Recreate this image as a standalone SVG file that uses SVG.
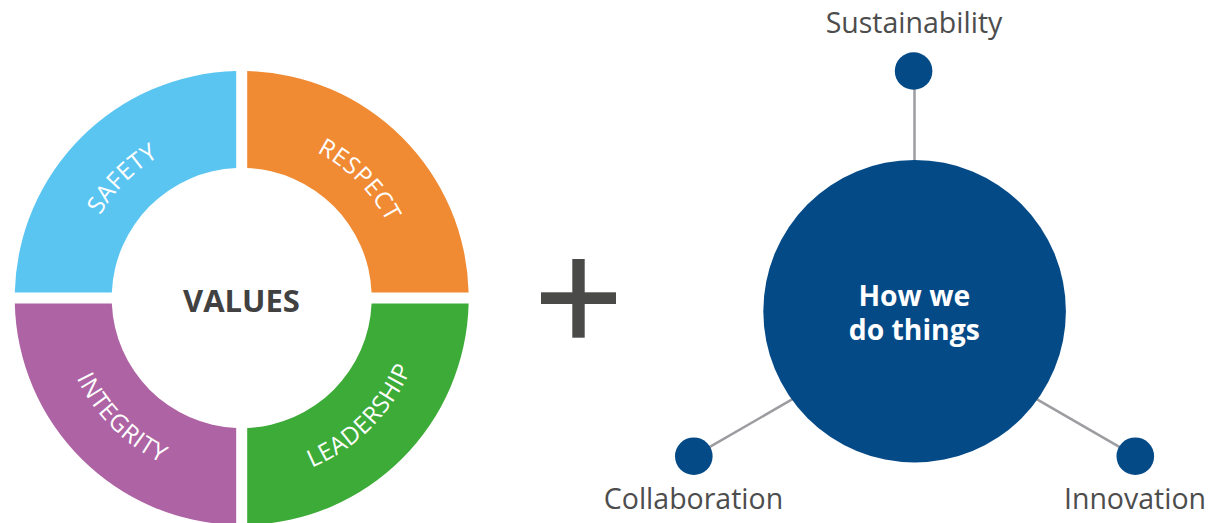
<svg xmlns="http://www.w3.org/2000/svg" width="1225" height="523" viewBox="0 0 1225 523">
<style>
.seg-label{font-family:"Open Sans","Liberation Sans",sans-serif;font-size:24px;fill:#ffffff;letter-spacing:0.6px}
.center-label{font-family:"Open Sans","Liberation Sans",sans-serif;font-size:31px;font-weight:700;fill:#414141}
.hub-label{font-family:"Open Sans","Liberation Sans",sans-serif;font-size:28.3px;font-weight:700;fill:#ffffff}
.leaf-label{font-family:"Open Sans","Liberation Sans",sans-serif;font-size:28.5px;fill:#4d4d4d}
.dot{fill:#044a87}
.conn{stroke:#9d9da1;stroke-width:2.5;fill:none}
</style>
<defs>
<path id="arcSafety" d="M77.7,298 A164,164 0 0 1 241.7,134"/>
<path id="arcRespect" d="M241.7,134 A164,164 0 0 1 405.7,298"/>
<path id="arcIntegrity" d="M58.2,298 A183.5,183.5 0 0 0 241.7,481.5"/>
<path id="arcLeadership" d="M241.7,481.5 A183.5,183.5 0 0 0 425.2,298"/>
</defs>
<rect width="1225" height="523" fill="#ffffff"/>

<g id="values-wheel">
<g id="safety">
<path d="M236.2,71.07 A227,227 0 0 0 14.77,292.5 L111.82,292.5 A130,130 0 0 1 236.2,168.12 Z" fill="#5bc5f2"/>
<text class="seg-label"><textPath href="#arcSafety" startOffset="50%" text-anchor="middle">SAFETY</textPath></text>
</g>
<g id="respect">
<path d="M247.2,71.07 A227,227 0 0 1 468.63,292.5 L371.58,292.5 A130,130 0 0 0 247.2,168.12 Z" fill="#f08a33"/>
<text class="seg-label"><textPath href="#arcRespect" startOffset="50%" text-anchor="middle">RESPECT</textPath></text>
</g>
<g id="leadership">
<path d="M468.63,303.5 A227,227 0 0 1 247.2,524.93 L247.2,427.88 A130,130 0 0 0 371.58,303.5 Z" fill="#3dab37"/>
<text class="seg-label"><textPath href="#arcLeadership" startOffset="50%" text-anchor="middle">LEADERSHIP</textPath></text>
</g>
<g id="integrity">
<path d="M14.77,303.5 A227,227 0 0 0 236.2,524.93 L236.2,427.88 A130,130 0 0 1 111.82,303.5 Z" fill="#ae63a4"/>
<text class="seg-label"><textPath href="#arcIntegrity" startOffset="50%" text-anchor="middle">INTEGRITY</textPath></text>
</g>
<g id="values">
<text class="center-label" x="241.5" y="311.5" text-anchor="middle">VALUES</text>
</g>
</g>

<g id="plus">
<rect x="572.3" y="259" width="12.4" height="78.7" fill="#4a4a48"/>
<rect x="541" y="292.3" width="75" height="11.7" fill="#4a4a48"/>
</g>

<g id="connectors">
<line class="conn" x1="914.5" y1="71" x2="914.5" y2="328.5"/>
<line class="conn" x1="693.8" y1="456.2" x2="914.5" y2="328.5"/>
<line class="conn" x1="1135.3" y1="456.2" x2="914.5" y2="328.5"/>
</g>

<g id="how-we-do-things">
<circle cx="914.6" cy="311.2" r="151.3" fill="#044a87"/>
<text class="hub-label" text-anchor="middle"><tspan x="914.3" y="305.7">How we</tspan><tspan x="914.3" y="340">do things</tspan></text>
</g>

<g id="sustainability">
<circle class="dot" cx="913.6" cy="71" r="18.8"/>
<text class="leaf-label" x="914" y="33.3" text-anchor="middle">Sustainability</text>
</g>

<g id="collaboration">
<circle class="dot" cx="693.8" cy="456.2" r="18.8"/>
<text class="leaf-label" x="693.5" y="509.3" text-anchor="middle">Collaboration</text>
</g>

<g id="innovation">
<circle class="dot" cx="1135.3" cy="456.2" r="18.8"/>
<text class="leaf-label" x="1135" y="508.5" text-anchor="middle">Innovation</text>
</g>
</svg>
